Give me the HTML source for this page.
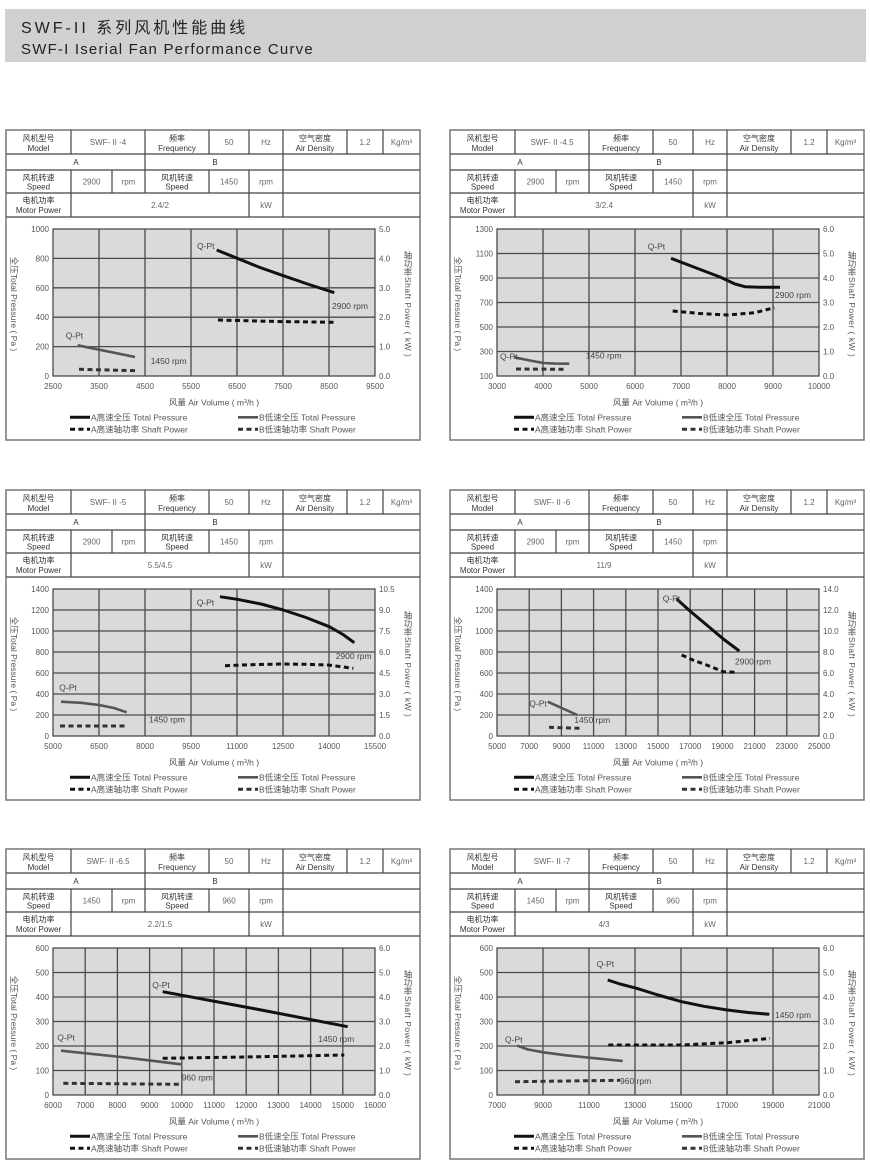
<!DOCTYPE html>
<html><head><meta charset="utf-8">
<style>
html,body{margin:0;padding:0;background:#fff;}
svg{display:block;}
text{font-family:"Liberation Sans","Noto Sans CJK SC",sans-serif;}
.t{font-size:8px;fill:#333;text-anchor:middle;}
.v{font-size:8px;fill:#666;text-anchor:middle;}
.tk{font-size:8px;fill:#555;}
.yl{text-anchor:end;}
.xl{text-anchor:middle;}
.lg{font-size:8.5px;fill:#555;}
.lb{font-size:8.5px;fill:#444;}
.ax{font-size:8.5px;fill:#555;}
.grid{stroke:#4a4a4a;stroke-width:1.3;fill:none;}
.plot{fill:#dadada;stroke:#4a4a4a;stroke-width:1.3;}
.tbl{stroke:#444;stroke-width:1.2;fill:none;}
.bd{fill:none;stroke:#777;stroke-width:1.5;}
.A{stroke:#111;stroke-width:3;fill:none;stroke-linejoin:round;}
.B{stroke:#555;stroke-width:2.6;fill:none;stroke-linejoin:round;}
.Ad{stroke:#111;stroke-width:3;fill:none;stroke-dasharray:5 3.5;}
.Bd{stroke:#333;stroke-width:3;fill:none;stroke-dasharray:5 3.5;}
</style></head>
<body>
<svg width="870" height="1171" viewBox="0 0 870 1171" xmlns="http://www.w3.org/2000/svg">
<rect x="5" y="9" width="861" height="53" fill="#d0d0d0"/>
<text x="21" y="33" style="font-size:16px;fill:#222;letter-spacing:3px">SWF-II 系列风机性能曲线</text>
<text x="21" y="54" style="font-size:15px;fill:#222;letter-spacing:1.2px">SWF-I Iserial Fan Performance Curve</text>

<!-- ============ PANEL 1 ============ -->
<g transform="translate(6,130)">
<rect class="bd" x="0" y="0" width="414" height="310"/>
<path class="tbl" d="M0,24H414M0,40H414M0,63H414M0,87H414
M65,0V24M139,0V24M203,0V24M243,0V24M277,0V24M341,0V24M377,0V24
M139,24V40M277,24V40
M65,40V63M106,40V63M139,40V63M203,40V63M243,40V63M277,40V63
M65,63V87M243,63V87M277,63V87"/>
<text class="t" x="32.5" y="11">风机型号</text><text class="t" x="32.5" y="21">Model</text>
<text class="v" x="102" y="15">SWF- II -4</text>
<text class="t" x="171" y="11">频率</text><text class="t" x="171" y="21">Frequency</text>
<text class="v" x="223" y="15">50</text><text class="v" x="260" y="15">Hz</text>
<text class="t" x="309" y="11">空气密度</text><text class="t" x="309" y="21">Air Density</text>
<text class="v" x="359" y="15">1.2</text><text class="v" x="395.5" y="15">Kg/m³</text>
<text class="t" x="70" y="35">A</text><text class="t" x="209" y="35">B</text>
<text class="t" x="32.5" y="50.5">风机转速</text><text class="t" x="32.5" y="59.5">Speed</text>
<text class="v" x="85.5" y="54.5">2900</text><text class="v" x="122.5" y="54.5">rpm</text>
<text class="t" x="171" y="50.5">风机转速</text><text class="t" x="171" y="59.5">Speed</text>
<text class="v" x="223" y="54.5">1450</text><text class="v" x="260" y="54.5">rpm</text>
<text class="t" x="32.5" y="73">电机功率</text><text class="t" x="32.5" y="83">Motor Power</text>
<text class="v" x="154" y="78">2.4/2</text><text class="v" x="260" y="78">kW</text>

<rect class="plot" x="47" y="99" width="322" height="147"/>
<path class="grid" d="M93,99V246M139,99V246M185,99V246M231,99V246M277,99V246M323,99V246M47,128.4H369M47,157.8H369M47,187.2H369M47,216.6H369"/>
<g class="tk yl"><text x="43" y="102">1000</text><text x="43" y="131.4">800</text><text x="43" y="160.8">600</text><text x="43" y="190.2">400</text><text x="43" y="219.6">200</text><text x="43" y="249">0</text></g>
<g class="tk"><text x="373" y="102">5.0</text><text x="373" y="131.4">4.0</text><text x="373" y="160.8">3.0</text><text x="373" y="190.2">2.0</text><text x="373" y="219.6">1.0</text><text x="373" y="249">0.0</text></g>
<g class="tk xl"><text x="47" y="259">2500</text><text x="93" y="259">3500</text><text x="139" y="259">4500</text><text x="185" y="259">5500</text><text x="231" y="259">6500</text><text x="277" y="259">7500</text><text x="323" y="259">8500</text><text x="369" y="259">9500</text></g>

<polyline class="A" points="210.7,120 231.3,128.3 254,137.5 277.3,145.7 303,154.5 328.3,162.7"/>
<polyline class="Ad" points="212,190 271,191.5 330,192.3"/>
<polyline class="B" points="71.7,215.3 129,227"/>
<polyline class="Bd" points="73,239.3 130,240.7"/>
<text class="lb" x="191" y="119">Q-Pt</text><text class="lb" x="326" y="179">2900 rpm</text>
<text class="lb" x="59.7" y="208.7">Q-Pt</text><text class="lb" x="144.7" y="234">1450 rpm</text>

<text class="ax" transform="translate(5,174) rotate(90)" text-anchor="middle">全压Total Pressure ( Pa )</text>
<g class="ax" text-anchor="middle"><text x="402" y="128.5">轴</text><text x="402" y="137">功</text><text x="402" y="145.5">率</text></g>
<text class="ax" transform="translate(399,147) rotate(90)" style="letter-spacing:0.5px">Shaft Power ( kW )</text>
<text class="ax" x="208" y="275.5" text-anchor="middle">风量 Air Volume ( m³/h )</text>
<line x1="64" y1="287.3" x2="84" y2="287.3" class="A"/><text class="lg" x="85" y="290.3">A高速全压 Total Pressure</text>
<line x1="232" y1="287.3" x2="252" y2="287.3" class="B"/><text class="lg" x="253" y="290.3">B低速全压 Total Pressure</text>
<line x1="64" y1="299.3" x2="84" y2="299.3" class="Ad"/><text class="lg" x="85" y="302.3">A高速轴功率 Shaft Power</text>
<line x1="232" y1="299.3" x2="252" y2="299.3" class="Bd"/><text class="lg" x="253" y="302.3">B低速轴功率 Shaft Power</text>
</g>

<!-- ============ PANEL 2 ============ -->
<g transform="translate(450,130)">
<rect class="bd" x="0" y="0" width="414" height="310"/>
<path class="tbl" d="M0,24H414M0,40H414M0,63H414M0,87H414
M65,0V24M139,0V24M203,0V24M243,0V24M277,0V24M341,0V24M377,0V24
M139,24V40M277,24V40
M65,40V63M106,40V63M139,40V63M203,40V63M243,40V63M277,40V63
M65,63V87M243,63V87M277,63V87"/>
<text class="t" x="32.5" y="11">风机型号</text><text class="t" x="32.5" y="21">Model</text>
<text class="v" x="102" y="15">SWF- II -4.5</text>
<text class="t" x="171" y="11">频率</text><text class="t" x="171" y="21">Frequency</text>
<text class="v" x="223" y="15">50</text><text class="v" x="260" y="15">Hz</text>
<text class="t" x="309" y="11">空气密度</text><text class="t" x="309" y="21">Air Density</text>
<text class="v" x="359" y="15">1.2</text><text class="v" x="395.5" y="15">Kg/m³</text>
<text class="t" x="70" y="35">A</text><text class="t" x="209" y="35">B</text>
<text class="t" x="32.5" y="50.5">风机转速</text><text class="t" x="32.5" y="59.5">Speed</text>
<text class="v" x="85.5" y="54.5">2900</text><text class="v" x="122.5" y="54.5">rpm</text>
<text class="t" x="171" y="50.5">风机转速</text><text class="t" x="171" y="59.5">Speed</text>
<text class="v" x="223" y="54.5">1450</text><text class="v" x="260" y="54.5">rpm</text>
<text class="t" x="32.5" y="73">电机功率</text><text class="t" x="32.5" y="83">Motor Power</text>
<text class="v" x="154" y="78">3/2.4</text><text class="v" x="260" y="78">kW</text>

<rect class="plot" x="47" y="99" width="322" height="147"/>
<path class="grid" d="M93,99V246M139,99V246M185,99V246M231,99V246M277,99V246M323,99V246M47,123.5H369M47,148H369M47,172.5H369M47,197H369M47,221.5H369"/>
<g class="tk yl"><text x="43" y="102">1300</text><text x="43" y="126.5">1100</text><text x="43" y="151">900</text><text x="43" y="175.5">700</text><text x="43" y="200">500</text><text x="43" y="224.5">300</text><text x="43" y="249">100</text></g>
<g class="tk"><text x="373" y="102">6.0</text><text x="373" y="126.5">5.0</text><text x="373" y="151">4.0</text><text x="373" y="175.5">3.0</text><text x="373" y="200">2.0</text><text x="373" y="224.5">1.0</text><text x="373" y="249">0.0</text></g>
<g class="tk xl"><text x="47" y="259">3000</text><text x="93" y="259">4000</text><text x="139" y="259">5000</text><text x="185" y="259">6000</text><text x="231" y="259">7000</text><text x="277" y="259">8000</text><text x="323" y="259">9000</text><text x="369" y="259">10000</text></g>

<polyline class="A" points="221,128.3 245,137.5 270,147 285,154 295,156.7 310,157.2 330,157.3"/>
<polyline class="Ad" points="222.7,181 250,183.5 277.3,185 305,182.7 324.3,177.7"/>
<polyline class="B" points="64,227.3 80,230.5 93.3,233 105,233.6 119.3,233.7"/>
<polyline class="Bd" points="66,239 116,239.3"/>
<text class="lb" x="197.7" y="119.7">Q-Pt</text><text class="lb" x="325" y="168">2900 rpm</text>
<text class="lb" x="50" y="229.7">Q-Pt</text><text class="lb" x="135.7" y="228.7">1450 rpm</text>

<text class="ax" transform="translate(5,174) rotate(90)" text-anchor="middle">全压Total Pressure ( Pa )</text>
<g class="ax" text-anchor="middle"><text x="402" y="128.5">轴</text><text x="402" y="137">功</text><text x="402" y="145.5">率</text></g>
<text class="ax" transform="translate(399,147) rotate(90)" style="letter-spacing:0.5px">Shaft Power ( kW )</text>
<text class="ax" x="208" y="275.5" text-anchor="middle">风量 Air Volume ( m³/h )</text>
<line x1="64" y1="287.3" x2="84" y2="287.3" class="A"/><text class="lg" x="85" y="290.3">A高速全压 Total Pressure</text>
<line x1="232" y1="287.3" x2="252" y2="287.3" class="B"/><text class="lg" x="253" y="290.3">B低速全压 Total Pressure</text>
<line x1="64" y1="299.3" x2="84" y2="299.3" class="Ad"/><text class="lg" x="85" y="302.3">A高速轴功率 Shaft Power</text>
<line x1="232" y1="299.3" x2="252" y2="299.3" class="Bd"/><text class="lg" x="253" y="302.3">B低速轴功率 Shaft Power</text>
</g>

<!-- ============ PANEL 3 ============ -->
<g transform="translate(6,490)">
<rect class="bd" x="0" y="0" width="414" height="310"/>
<path class="tbl" d="M0,24H414M0,40H414M0,63H414M0,87H414
M65,0V24M139,0V24M203,0V24M243,0V24M277,0V24M341,0V24M377,0V24
M139,24V40M277,24V40
M65,40V63M106,40V63M139,40V63M203,40V63M243,40V63M277,40V63
M65,63V87M243,63V87M277,63V87"/>
<text class="t" x="32.5" y="11">风机型号</text><text class="t" x="32.5" y="21">Model</text>
<text class="v" x="102" y="15">SWF- II -5</text>
<text class="t" x="171" y="11">频率</text><text class="t" x="171" y="21">Frequency</text>
<text class="v" x="223" y="15">50</text><text class="v" x="260" y="15">Hz</text>
<text class="t" x="309" y="11">空气密度</text><text class="t" x="309" y="21">Air Density</text>
<text class="v" x="359" y="15">1.2</text><text class="v" x="395.5" y="15">Kg/m³</text>
<text class="t" x="70" y="35">A</text><text class="t" x="209" y="35">B</text>
<text class="t" x="32.5" y="50.5">风机转速</text><text class="t" x="32.5" y="59.5">Speed</text>
<text class="v" x="85.5" y="54.5">2900</text><text class="v" x="122.5" y="54.5">rpm</text>
<text class="t" x="171" y="50.5">风机转速</text><text class="t" x="171" y="59.5">Speed</text>
<text class="v" x="223" y="54.5">1450</text><text class="v" x="260" y="54.5">rpm</text>
<text class="t" x="32.5" y="73">电机功率</text><text class="t" x="32.5" y="83">Motor Power</text>
<text class="v" x="154" y="78">5.5/4.5</text><text class="v" x="260" y="78">kW</text>

<rect class="plot" x="47" y="99" width="322" height="147"/>
<path class="grid" d="M93,99V246M139,99V246M185,99V246M231,99V246M277,99V246M323,99V246M47,120H369M47,141H369M47,162H369M47,183H369M47,204H369M47,225H369"/>
<g class="tk yl"><text x="43" y="102">1400</text><text x="43" y="123">1200</text><text x="43" y="144">1000</text><text x="43" y="165">800</text><text x="43" y="186">600</text><text x="43" y="207">400</text><text x="43" y="228">200</text><text x="43" y="249">0</text></g>
<g class="tk"><text x="373" y="102">10.5</text><text x="373" y="123">9.0</text><text x="373" y="144">7.5</text><text x="373" y="165">6.0</text><text x="373" y="186">4.5</text><text x="373" y="207">3.0</text><text x="373" y="228">1.5</text><text x="373" y="249">0.0</text></g>
<g class="tk xl"><text x="47" y="259">5000</text><text x="93" y="259">6500</text><text x="139" y="259">8000</text><text x="185" y="259">9500</text><text x="231" y="259">11000</text><text x="277" y="259">12500</text><text x="323" y="259">14000</text><text x="369" y="259">15500</text></g>

<polyline class="A" points="214,106.7 231.3,109.3 255,114 277.3,120 300,127.5 323.3,136.7 337,144.5 348.3,152.7"/>
<polyline class="Ad" points="219,175.7 248,174.6 277.3,174 300,174.3 322.3,175 347.3,178.3"/>
<polyline class="B" points="55,211.7 75,212.8 93,215 108,218 120.7,222.3"/>
<polyline class="Bd" points="54,236 120,236"/>
<text class="lb" x="190.7" y="115.3">Q-Pt</text><text class="lb" x="329.7" y="169">2900 rpm</text>
<text class="lb" x="53.3" y="200.7">Q-Pt</text><text class="lb" x="143" y="232.3">1450 rpm</text>

<text class="ax" transform="translate(5,174) rotate(90)" text-anchor="middle">全压Total Pressure ( Pa )</text>
<g class="ax" text-anchor="middle"><text x="402" y="128.5">轴</text><text x="402" y="137">功</text><text x="402" y="145.5">率</text></g>
<text class="ax" transform="translate(399,147) rotate(90)" style="letter-spacing:0.5px">Shaft Power ( kW )</text>
<text class="ax" x="208" y="275.5" text-anchor="middle">风量 Air Volume ( m³/h )</text>
<line x1="64" y1="287.3" x2="84" y2="287.3" class="A"/><text class="lg" x="85" y="290.3">A高速全压 Total Pressure</text>
<line x1="232" y1="287.3" x2="252" y2="287.3" class="B"/><text class="lg" x="253" y="290.3">B低速全压 Total Pressure</text>
<line x1="64" y1="299.3" x2="84" y2="299.3" class="Ad"/><text class="lg" x="85" y="302.3">A高速轴功率 Shaft Power</text>
<line x1="232" y1="299.3" x2="252" y2="299.3" class="Bd"/><text class="lg" x="253" y="302.3">B低速轴功率 Shaft Power</text>
</g>

<!-- ============ PANEL 4 ============ -->
<g transform="translate(450,490)">
<rect class="bd" x="0" y="0" width="414" height="310"/>
<path class="tbl" d="M0,24H414M0,40H414M0,63H414M0,87H414
M65,0V24M139,0V24M203,0V24M243,0V24M277,0V24M341,0V24M377,0V24
M139,24V40M277,24V40
M65,40V63M106,40V63M139,40V63M203,40V63M243,40V63M277,40V63
M65,63V87M243,63V87M277,63V87"/>
<text class="t" x="32.5" y="11">风机型号</text><text class="t" x="32.5" y="21">Model</text>
<text class="v" x="102" y="15">SWF- II -6</text>
<text class="t" x="171" y="11">频率</text><text class="t" x="171" y="21">Frequency</text>
<text class="v" x="223" y="15">50</text><text class="v" x="260" y="15">Hz</text>
<text class="t" x="309" y="11">空气密度</text><text class="t" x="309" y="21">Air Density</text>
<text class="v" x="359" y="15">1.2</text><text class="v" x="395.5" y="15">Kg/m³</text>
<text class="t" x="70" y="35">A</text><text class="t" x="209" y="35">B</text>
<text class="t" x="32.5" y="50.5">风机转速</text><text class="t" x="32.5" y="59.5">Speed</text>
<text class="v" x="85.5" y="54.5">2900</text><text class="v" x="122.5" y="54.5">rpm</text>
<text class="t" x="171" y="50.5">风机转速</text><text class="t" x="171" y="59.5">Speed</text>
<text class="v" x="223" y="54.5">1450</text><text class="v" x="260" y="54.5">rpm</text>
<text class="t" x="32.5" y="73">电机功率</text><text class="t" x="32.5" y="83">Motor Power</text>
<text class="v" x="154" y="78">11/9</text><text class="v" x="260" y="78">kW</text>

<rect class="plot" x="47" y="99" width="322" height="147"/>
<path class="grid" d="M79.2,99V246M111.4,99V246M143.6,99V246M175.8,99V246M208,99V246M240.2,99V246M272.4,99V246M304.6,99V246M336.8,99V246M47,120H369M47,141H369M47,162H369M47,183H369M47,204H369M47,225H369"/>
<g class="tk yl"><text x="43" y="102">1400</text><text x="43" y="123">1200</text><text x="43" y="144">1000</text><text x="43" y="165">800</text><text x="43" y="186">600</text><text x="43" y="207">400</text><text x="43" y="228">200</text><text x="43" y="249">0</text></g>
<g class="tk"><text x="373" y="102">14.0</text><text x="373" y="123">12.0</text><text x="373" y="144">10.0</text><text x="373" y="165">8.0</text><text x="373" y="186">6.0</text><text x="373" y="207">4.0</text><text x="373" y="228">2.0</text><text x="373" y="249">0.0</text></g>
<g class="tk xl"><text x="47" y="259">5000</text><text x="79.2" y="259">7000</text><text x="111.4" y="259">9000</text><text x="143.6" y="259">11000</text><text x="175.8" y="259">13000</text><text x="208" y="259">15000</text><text x="240.2" y="259">17000</text><text x="272.4" y="259">19000</text><text x="304.6" y="259">21000</text><text x="336.8" y="259">23000</text><text x="369" y="259">25000</text></g>

<polyline class="A" points="226.7,109 240,121 256.7,135 273.3,149 289.3,161"/>
<polyline class="Ad" points="231.7,165 244,170.5 256.7,175 273.3,181.7 286.7,182.3"/>
<polyline class="B" points="97.7,211.7 127.3,225"/>
<polyline class="Bd" points="99,237.3 130,238.3"/>
<text class="lb" x="212.7" y="111.3">Q-Pt</text><text class="lb" x="285" y="174.7">2900 rpm</text>
<text class="lb" x="79.3" y="216.3">Q-Pt</text><text class="lb" x="124.3" y="233">1450 rpm</text>

<text class="ax" transform="translate(5,174) rotate(90)" text-anchor="middle">全压Total Pressure ( Pa )</text>
<g class="ax" text-anchor="middle"><text x="402" y="128.5">轴</text><text x="402" y="137">功</text><text x="402" y="145.5">率</text></g>
<text class="ax" transform="translate(399,147) rotate(90)" style="letter-spacing:0.5px">Shaft Power ( kW )</text>
<text class="ax" x="208" y="275.5" text-anchor="middle">风量 Air Volume ( m³/h )</text>
<line x1="64" y1="287.3" x2="84" y2="287.3" class="A"/><text class="lg" x="85" y="290.3">A高速全压 Total Pressure</text>
<line x1="232" y1="287.3" x2="252" y2="287.3" class="B"/><text class="lg" x="253" y="290.3">B低速全压 Total Pressure</text>
<line x1="64" y1="299.3" x2="84" y2="299.3" class="Ad"/><text class="lg" x="85" y="302.3">A高速轴功率 Shaft Power</text>
<line x1="232" y1="299.3" x2="252" y2="299.3" class="Bd"/><text class="lg" x="253" y="302.3">B低速轴功率 Shaft Power</text>
</g>

<!-- ============ PANEL 5 ============ -->
<g transform="translate(6,849)">
<rect class="bd" x="0" y="0" width="414" height="310"/>
<path class="tbl" d="M0,24H414M0,40H414M0,63H414M0,87H414
M65,0V24M139,0V24M203,0V24M243,0V24M277,0V24M341,0V24M377,0V24
M139,24V40M277,24V40
M65,40V63M106,40V63M139,40V63M203,40V63M243,40V63M277,40V63
M65,63V87M243,63V87M277,63V87"/>
<text class="t" x="32.5" y="11">风机型号</text><text class="t" x="32.5" y="21">Model</text>
<text class="v" x="102" y="15">SWF- II -6.5</text>
<text class="t" x="171" y="11">频率</text><text class="t" x="171" y="21">Frequency</text>
<text class="v" x="223" y="15">50</text><text class="v" x="260" y="15">Hz</text>
<text class="t" x="309" y="11">空气密度</text><text class="t" x="309" y="21">Air Density</text>
<text class="v" x="359" y="15">1.2</text><text class="v" x="395.5" y="15">Kg/m³</text>
<text class="t" x="70" y="35">A</text><text class="t" x="209" y="35">B</text>
<text class="t" x="32.5" y="50.5">风机转速</text><text class="t" x="32.5" y="59.5">Speed</text>
<text class="v" x="85.5" y="54.5">1450</text><text class="v" x="122.5" y="54.5">rpm</text>
<text class="t" x="171" y="50.5">风机转速</text><text class="t" x="171" y="59.5">Speed</text>
<text class="v" x="223" y="54.5">960</text><text class="v" x="260" y="54.5">rpm</text>
<text class="t" x="32.5" y="73">电机功率</text><text class="t" x="32.5" y="83">Motor Power</text>
<text class="v" x="154" y="78">2.2/1.5</text><text class="v" x="260" y="78">kW</text>

<rect class="plot" x="47" y="99" width="322" height="147"/>
<path class="grid" d="M79.2,99V246M111.4,99V246M143.6,99V246M175.8,99V246M208,99V246M240.2,99V246M272.4,99V246M304.6,99V246M336.8,99V246M47,123.5H369M47,148H369M47,172.5H369M47,197H369M47,221.5H369"/>
<g class="tk yl"><text x="43" y="102">600</text><text x="43" y="126.5">500</text><text x="43" y="151">400</text><text x="43" y="175.5">300</text><text x="43" y="200">200</text><text x="43" y="224.5">100</text><text x="43" y="249">0</text></g>
<g class="tk"><text x="373" y="102">6.0</text><text x="373" y="126.5">5.0</text><text x="373" y="151">4.0</text><text x="373" y="175.5">3.0</text><text x="373" y="200">2.0</text><text x="373" y="224.5">1.0</text><text x="373" y="249">0.0</text></g>
<g class="tk xl"><text x="47" y="259">6000</text><text x="79.2" y="259">7000</text><text x="111.4" y="259">8000</text><text x="143.6" y="259">9000</text><text x="175.8" y="259">10000</text><text x="208" y="259">11000</text><text x="240.2" y="259">12000</text><text x="272.4" y="259">13000</text><text x="304.6" y="259">14000</text><text x="336.8" y="259">15000</text><text x="369" y="259">16000</text></g>

<polyline class="A" points="156.7,142.7 250,160 341.7,177.7"/>
<polyline class="Ad" points="156.7,209.3 250,207.8 338.3,206"/>
<polyline class="B" points="55,201.7 115,208 175,215.3"/>
<polyline class="Bd" points="57.3,234.3 175,235.3"/>
<text class="lb" x="146.3" y="139">Q-Pt</text><text class="lb" x="312.3" y="193">1450 rpm</text>
<text class="lb" x="51.3" y="191.7">Q-Pt</text><text class="lb" x="175.7" y="231.3">960 rpm</text>

<text class="ax" transform="translate(5,174) rotate(90)" text-anchor="middle">全压Total Pressure ( Pa )</text>
<g class="ax" text-anchor="middle"><text x="402" y="128.5">轴</text><text x="402" y="137">功</text><text x="402" y="145.5">率</text></g>
<text class="ax" transform="translate(399,147) rotate(90)" style="letter-spacing:0.5px">Shaft Power ( kW )</text>
<text class="ax" x="208" y="275.5" text-anchor="middle">风量 Air Volume ( m³/h )</text>
<line x1="64" y1="287.3" x2="84" y2="287.3" class="A"/><text class="lg" x="85" y="290.3">A高速全压 Total Pressure</text>
<line x1="232" y1="287.3" x2="252" y2="287.3" class="B"/><text class="lg" x="253" y="290.3">B低速全压 Total Pressure</text>
<line x1="64" y1="299.3" x2="84" y2="299.3" class="Ad"/><text class="lg" x="85" y="302.3">A高速轴功率 Shaft Power</text>
<line x1="232" y1="299.3" x2="252" y2="299.3" class="Bd"/><text class="lg" x="253" y="302.3">B低速轴功率 Shaft Power</text>
</g>

<!-- ============ PANEL 6 ============ -->
<g transform="translate(450,849)">
<rect class="bd" x="0" y="0" width="414" height="310"/>
<path class="tbl" d="M0,24H414M0,40H414M0,63H414M0,87H414
M65,0V24M139,0V24M203,0V24M243,0V24M277,0V24M341,0V24M377,0V24
M139,24V40M277,24V40
M65,40V63M106,40V63M139,40V63M203,40V63M243,40V63M277,40V63
M65,63V87M243,63V87M277,63V87"/>
<text class="t" x="32.5" y="11">风机型号</text><text class="t" x="32.5" y="21">Model</text>
<text class="v" x="102" y="15">SWF- II -7</text>
<text class="t" x="171" y="11">频率</text><text class="t" x="171" y="21">Frequency</text>
<text class="v" x="223" y="15">50</text><text class="v" x="260" y="15">Hz</text>
<text class="t" x="309" y="11">空气密度</text><text class="t" x="309" y="21">Air Density</text>
<text class="v" x="359" y="15">1.2</text><text class="v" x="395.5" y="15">Kg/m³</text>
<text class="t" x="70" y="35">A</text><text class="t" x="209" y="35">B</text>
<text class="t" x="32.5" y="50.5">风机转速</text><text class="t" x="32.5" y="59.5">Speed</text>
<text class="v" x="85.5" y="54.5">1450</text><text class="v" x="122.5" y="54.5">rpm</text>
<text class="t" x="171" y="50.5">风机转速</text><text class="t" x="171" y="59.5">Speed</text>
<text class="v" x="223" y="54.5">960</text><text class="v" x="260" y="54.5">rpm</text>
<text class="t" x="32.5" y="73">电机功率</text><text class="t" x="32.5" y="83">Motor Power</text>
<text class="v" x="154" y="78">4/3</text><text class="v" x="260" y="78">kW</text>

<rect class="plot" x="47" y="99" width="322" height="147"/>
<path class="grid" d="M93,99V246M139,99V246M185,99V246M231,99V246M277,99V246M323,99V246M47,123.5H369M47,148H369M47,172.5H369M47,197H369M47,221.5H369"/>
<g class="tk yl"><text x="43" y="102">600</text><text x="43" y="126.5">500</text><text x="43" y="151">400</text><text x="43" y="175.5">300</text><text x="43" y="200">200</text><text x="43" y="224.5">100</text><text x="43" y="249">0</text></g>
<g class="tk"><text x="373" y="102">6.0</text><text x="373" y="126.5">5.0</text><text x="373" y="151">4.0</text><text x="373" y="175.5">3.0</text><text x="373" y="200">2.0</text><text x="373" y="224.5">1.0</text><text x="373" y="249">0.0</text></g>
<g class="tk xl"><text x="47" y="259">7000</text><text x="93" y="259">9000</text><text x="139" y="259">11000</text><text x="185" y="259">13000</text><text x="231" y="259">15000</text><text x="277" y="259">17000</text><text x="323" y="259">19000</text><text x="369" y="259">21000</text></g>

<polyline class="A" points="157.7,131 170,135 186.7,139.3 208,146 231.7,152.7 254,157.3 277.3,161 298,163.5 319.3,165.3"/>
<polyline class="Ad" points="158.3,196 231.7,196 277.3,193.7 320,189.3"/>
<polyline class="B" points="67.3,196.7 78,200.5 93.3,203.3 116,206.3 139.3,208.7 172.7,212"/>
<polyline class="Bd" points="65,232.7 170,231.3"/>
<text class="lb" x="146.7" y="118">Q-Pt</text><text class="lb" x="325" y="169">1450 rpm</text>
<text class="lb" x="55" y="193.3">Q-Pt</text><text class="lb" x="170" y="235">960 rpm</text>

<text class="ax" transform="translate(5,174) rotate(90)" text-anchor="middle">全压Total Pressure ( Pa )</text>
<g class="ax" text-anchor="middle"><text x="402" y="128.5">轴</text><text x="402" y="137">功</text><text x="402" y="145.5">率</text></g>
<text class="ax" transform="translate(399,147) rotate(90)" style="letter-spacing:0.5px">Shaft Power ( kW )</text>
<text class="ax" x="208" y="275.5" text-anchor="middle">风量 Air Volume ( m³/h )</text>
<line x1="64" y1="287.3" x2="84" y2="287.3" class="A"/><text class="lg" x="85" y="290.3">A高速全压 Total Pressure</text>
<line x1="232" y1="287.3" x2="252" y2="287.3" class="B"/><text class="lg" x="253" y="290.3">B低速全压 Total Pressure</text>
<line x1="64" y1="299.3" x2="84" y2="299.3" class="Ad"/><text class="lg" x="85" y="302.3">A高速轴功率 Shaft Power</text>
<line x1="232" y1="299.3" x2="252" y2="299.3" class="Bd"/><text class="lg" x="253" y="302.3">B低速轴功率 Shaft Power</text>
</g>
</svg>
</body></html>
